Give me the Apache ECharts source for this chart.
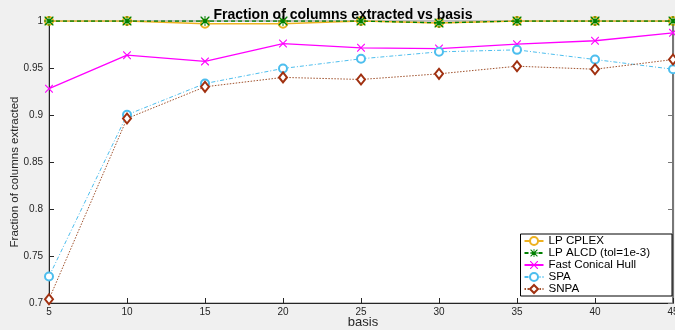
<!DOCTYPE html>
<html>
<head>
<meta charset="utf-8">
<script src="https://cdn.jsdelivr.net/npm/echarts@6/dist/echarts.min.js"></script>
<style>html,body{margin:0;padding:0;background:#f0f0f0;}#c{width:675px;height:330px;}</style>
</head>
<body>
<div id="c"></div>
<script>
const basis = [5, 10, 15, 20, 25, 30, 35, 40, 45];
const lpCplex = [1, 1, 0.997, 0.997, 1, 0.998, 1, 1, 1];
const lpAlcd = [1, 1, 1, 1, 1, 0.998, 1, 1, 1];
const fastConicalHull = [0.928, 0.9636, 0.957, 0.976, 0.9715, 0.9707, 0.9753, 0.979, 0.9874];
const spa = [0.7282, 0.9002, 0.9335, 0.9495, 0.9598, 0.9672, 0.9693, 0.959, 0.9487];
const snpa = [0.704, 0.8963, 0.930, 0.940, 0.9378, 0.9438, 0.9519, 0.9487, 0.959];
const yTicks = [0.7, 0.75, 0.8, 0.85, 0.9, 0.95, 1];

const xPath = 'path://M0,0L2,0L10,8L18,0L20,0L20,2L12,10L20,18L20,20L18,20L10,12L2,20L0,20L0,18L8,10L0,2Z';
const starPath = 'path://M1,1L3,1L10,8L17,1L19,1L19,3L12,10L19,17L19,19L17,19L10,12L3,19L1,19L1,17L8,10L1,3Z M9,0L11,0L11,20L9,20Z M0,9L20,9L20,11L0,11Z';

function pair(arr){ return basis.map((b,i)=>[b, arr[i]]); }

const chart = echarts.init(document.getElementById('c'));
chart.setOption({
  backgroundColor: '#f0f0f0',
  animation: false,
  title: {
    text: 'Fraction of columns extracted vs basis',
    left: 338, top: 3, textAlign: 'center',
    textStyle: {fontFamily: 'Liberation Sans', fontSize: 14, fontWeight: 'bold', color: '#000'}
  },
  graphic: [{
    type: 'text', x: 15, y: 172, rotation: Math.PI / 2,
    style: {text: 'Fraction of columns extracted', fontFamily: 'Liberation Sans', fontSize: 11.5,
      fill: '#262626', align: 'center', verticalAlign: 'middle'}
  }, {
    type: 'text', x: 363, y: 322,
    style: {text: 'basis', fontFamily: 'Liberation Sans', fontSize: 13,
      fill: '#262626', align: 'center', verticalAlign: 'middle'}
  }],
  grid: {left: 49, right: 2, top: 21, bottom: 27, containLabel: false, outerBoundsMode: 'none',
    show: true, backgroundColor: '#fff', borderColor: '#888', borderWidth: 1},
  legend: {
    orient: 'vertical', right: 3, bottom: 34,
    backgroundColor: '#fff', borderColor: '#000', borderWidth: 1, borderRadius: 0,
    padding: [1, 22, 1, 3], itemGap: 0, itemWidth: 19, itemHeight: 10,
    textStyle: {fontFamily: 'Liberation Sans', fontSize: 11.6, lineHeight: 11.5, color: '#000'},
    data: ['LP CPLEX', 'LP ALCD (tol=1e-3)', 'Fast Conical Hull', 'SPA', 'SNPA']
  },
  xAxis: [{
    type: 'value', min: 5, max: 45, interval: 5,
    axisLine: {lineStyle: {color: '#262626', width: 1}},
    axisTick: {inside: true, length: 5, lineStyle: {color: '#262626'}},
    axisLabel: {fontFamily: 'Liberation Sans', fontSize: 10, color: '#262626', margin: 4},
    splitLine: {show: false}
  }],
  yAxis: [{
    type: 'value', min: 0.7, max: 1, interval: 0.05,
    axisLine: {show: true, lineStyle: {color: '#262626', width: 1}},
    axisTick: {show: true, inside: true, length: 5, lineStyle: {color: '#262626'}},
    axisLabel: {fontFamily: 'Liberation Sans', fontSize: 10, color: '#262626', margin: 6,
      formatter: v => String(+v.toFixed(2))},
    splitLine: {show: false}
  }, {
    type: 'value', min: 0.7, max: 1, interval: 0.05, position: 'right',
    axisLine: {show: true, lineStyle: {color: '#777', width: 2}},
    axisTick: {show: true, inside: true, length: 5, lineStyle: {color: '#777'}},
    axisLabel: {show: false}, splitLine: {show: false}
  }],
  series: [
    {name: 'LP CPLEX', type: 'line', data: pair(lpCplex), symbol: 'emptyCircle', symbolSize: 8,
      lineStyle: {color: '#EDB120', width: 1.5}, itemStyle: {color: '#EDB120', borderColor: '#EDB120', borderWidth: 1.2}, z: 2},
    {name: 'LP ALCD (tol=1e-3)', type: 'line', data: pair(lpAlcd), symbol: starPath, symbolSize: 10,
      lineStyle: {color: '#008000', width: 1.3, type: [4, 3]}, itemStyle: {color: '#008000'}, z: 3},
    {name: 'Fast Conical Hull', type: 'line', data: pair(fastConicalHull), symbol: xPath, symbolSize: 8,
      lineStyle: {color: '#FF00FF', width: 1.3}, itemStyle: {color: '#FF00FF'}, z: 3},
    {name: 'SPA', type: 'line', data: pair(spa), symbol: 'emptyCircle', symbolSize: 8,
      lineStyle: {color: '#4DBEEE', width: 1, type: [4, 2, 1, 2]}, itemStyle: {color: '#4DBEEE', borderColor: '#4DBEEE', borderWidth: 1.2}, z: 3},
    {name: 'SNPA', type: 'line', data: pair(snpa), symbol: 'emptyDiamond', symbolSize: [8, 10],
      lineStyle: {color: '#A0522D', width: 1, type: [1.5, 1.5]}, itemStyle: {color: '#A03010', borderColor: '#A03010', borderWidth: 1.2}, z: 3}
  ]
});
</script>
</body>
</html>
